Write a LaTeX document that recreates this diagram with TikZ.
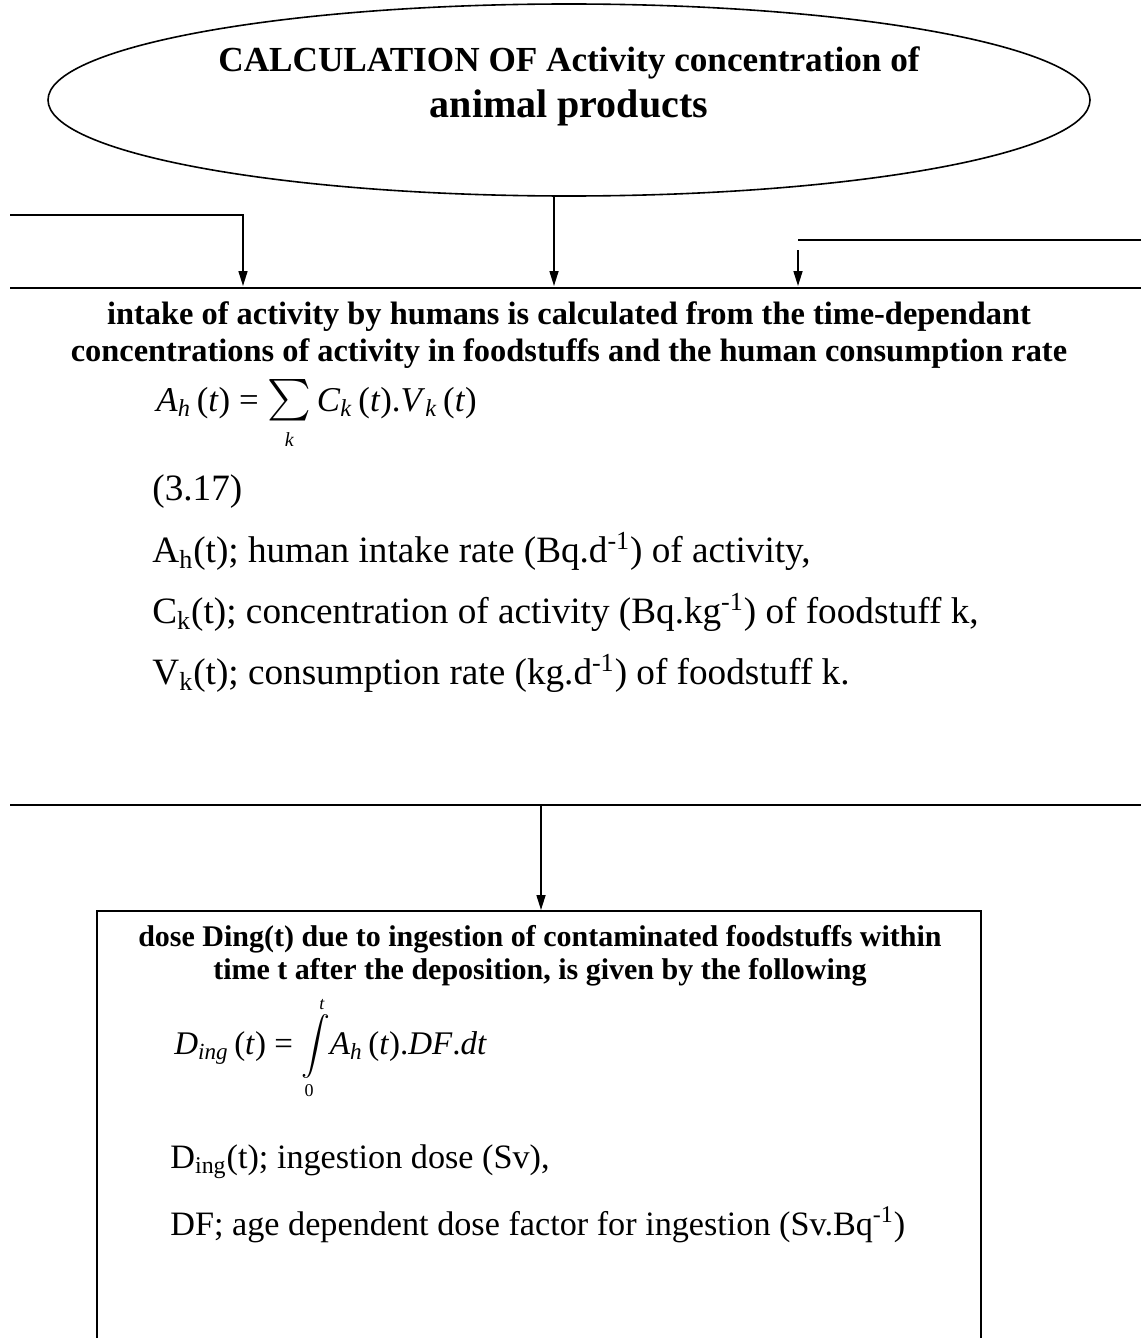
\documentclass[tikz,border=0pt]{standalone}
\usepackage{amsmath}
\usepackage{fontspec}
\setmainfont{Liberation Serif}
\usetikzlibrary{shapes.geometric,arrows.meta}

\tikzset{
	barline/.style={line width=1.3pt},
	feedline/.style={line width=0.8pt},
	feedarrow/.style={line width=0.8pt, -{Triangle[length=7.5pt,width=4.5pt]}},
	headtxt/.style={font=\fontsize{16.2}{18.5}\selectfont\bfseries, align=center},
	boxhead/.style={font=\fontsize{15}{16.5}\selectfont\bfseries, align=center},
	bodytxt/.style={font=\fontsize{18.6}{21}\selectfont, anchor=base west, inner sep=0pt},
	dosetxt/.style={font=\fontsize{17.1}{20}\selectfont, anchor=base west, inner sep=0pt},
	eqtxt/.style={anchor=base west, inner sep=0pt},
}

\begin{document}
\begin{tikzpicture}[x=0.5pt, y=-0.5pt]
		\useasboundingbox (0,0) rectangle (1141,1338);

		% Calculation ellipse
		\node[ellipse, draw, line width=0.8pt, minimum width=521pt, minimum height=96pt] (calc) at (569,100) {};
		\node[font=\fontsize{17.6}{20}\selectfont\bfseries] (calc1) at (569,63) {CALCULATION OF Activity concentration of};
		\node[font=\fontsize{20}{22}\selectfont\bfseries] (calc2) at (569,108) {animal products};

		% Intake bar
		\coordinate (bar1w) at (10,288);
		\coordinate (bar1e) at (1141,288);
		\draw[barline] (bar1w) -- (bar1e);

		% Feeds into the intake bar
		\coordinate (feedL) at (10,215);
		\coordinate (inL) at (243,286);
		\coordinate (inM) at (554,286);
		\coordinate (feedR) at (1141,240);
		\coordinate (turnR) at (798,240);
		\coordinate (startR) at (798,250);
		\coordinate (inR) at (798,286);
		\draw[feedarrow] (feedL) -| (inL);
		\draw[feedarrow] (inM |- calc.south) -- (inM);
		\draw[feedline] (feedR) -- (turnR);
		\draw[feedarrow] (startR) -- (inR);

		% Intake text
		\node[headtxt] (intake) at (569,335) {intake of activity by humans is calculated from the time-dependant\\concentrations of activity in foodstuffs and the human consumption rate};
		\node[eqtxt, font=\fontsize{17.4}{20}\selectfont] (eqA) at (156,411) {\textit{A}\textsubscript{\textit{h}}\,(\textit{t}) = {\fontsize{22}{22}\selectfont$\smash[t]{\sum\limits_{\text{\fontsize{10}{10}\selectfont\itshape k}}}$}\,\textit{C}\textsubscript{\textit{k}}\,(\textit{t}).\textit{V}\textsubscript{\textit{k}}\,(\textit{t})};
		\node[bodytxt] (eqno) at (152,500) {(3.17)};
		\node[bodytxt] (defA) at (152,562) {A\textsubscript{h}(t); human intake rate (Bq.d\textsuperscript{-1}) of activity,};
		\node[bodytxt] (defC) at (152,623) {C\textsubscript{k}(t); concentration of activity (Bq.kg\textsuperscript{-1}) of foodstuff k,};
		\node[bodytxt] (defV) at (152,684) {V\textsubscript{k}(t); consumption rate (kg.d\textsuperscript{-1}) of foodstuff k.};

		% Dose bar
		\coordinate (bar2w) at (10,805);
		\coordinate (bar2e) at (1141,805);
		\coordinate (outD) at (541,805);
		\draw[barline] (bar2w) -- (bar2e);

		% Dose box
		\node[draw, line width=0.8pt, minimum width=442pt, minimum height=250pt, anchor=north] (dosebox) at (539,910) {};
		\draw[feedarrow] (outD) -- (outD |- dosebox.north);
		\node[boxhead] (dosehead) at (540,956) {dose Ding(t) due to ingestion of contaminated foodstuffs within\\time t after the deposition, is given by the following};
		\node[eqtxt, font=\fontsize{16.5}{19}\selectfont] (eqD) at (174,1054) {\textit{D}\textsubscript{\textit{ing}}\,(\textit{t}) = {\fontsize{15}{15}\selectfont$\displaystyle\int\limits_{\text{\fontsize{9}{9}\selectfont 0}}^{\text{\fontsize{9}{9}\selectfont\itshape t}}$}\textit{A}\textsubscript{\textit{h}}\,(\textit{t}).\textit{DF}.\textit{dt}};
		\node[dosetxt] (defD) at (170,1168) {D\textsubscript{ing}(t); ingestion dose (Sv),};
		\node[dosetxt] (defDF) at (170,1235) {DF; age dependent dose factor for ingestion (Sv.Bq\textsuperscript{-1})};
\end{tikzpicture}
\end{document}
